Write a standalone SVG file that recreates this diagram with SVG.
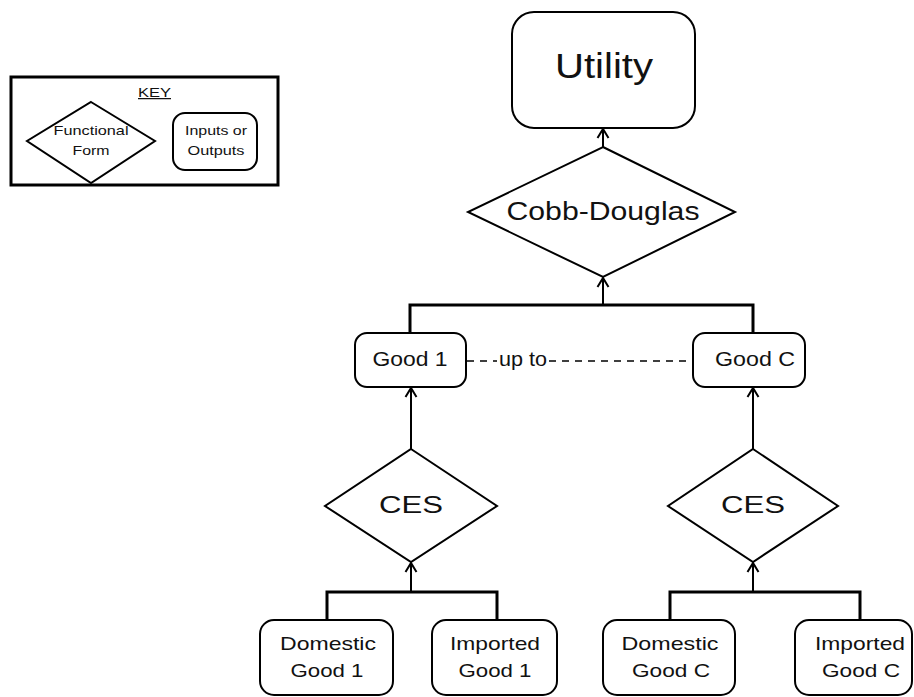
<svg xmlns="http://www.w3.org/2000/svg" width="914" height="697" viewBox="0 0 914 697">
<defs>
<marker id="arr" viewBox="-12 -8 14 16" refX="0" refY="0" markerWidth="14" markerHeight="16" markerUnits="userSpaceOnUse" orient="auto">
<path d="M-9,-5.5 L0,0 L-9,5.5" fill="none" stroke="#000" stroke-width="2"/>
</marker>
<style>
.box{fill:#fff;stroke:#000;stroke-width:2}
.dia{fill:#fff;stroke:#000;stroke-width:2}
.t{font-family:"Liberation Sans",Arial,sans-serif;fill:#111;text-anchor:middle}
.ln{fill:none;stroke:#000;stroke-width:2}
.bus{fill:none;stroke:#000;stroke-width:3}
.dash{fill:none;stroke:#000;stroke-width:1.5;stroke-dasharray:7,6}
</style>
</defs>
<rect width="914" height="697" fill="#fff"/>
<g id="key">
<rect x="11" y="77" width="267" height="108" fill="#fff" stroke="#000" stroke-width="3"/>
<text class="t" x="154.5" y="97" font-size="12.5" textLength="33" lengthAdjust="spacingAndGlyphs" text-decoration="underline">KEY</text>
<polygon class="dia" points="91,102 155,141 91,183 27,141"/>
<text class="t" x="91" y="135" font-size="13" textLength="75" lengthAdjust="spacingAndGlyphs">Functional</text>
<text class="t" x="91" y="155" font-size="13" textLength="37" lengthAdjust="spacingAndGlyphs">Form</text>
<rect class="box" x="173" y="113" width="84" height="57" rx="12"/>
<text class="t" x="216" y="135" font-size="13" textLength="62" lengthAdjust="spacingAndGlyphs">Inputs or</text>
<text class="t" x="216" y="155" font-size="13" textLength="57" lengthAdjust="spacingAndGlyphs">Outputs</text>
</g>
<g id="connectors">
<path class="ln" d="M603,147 V129" marker-end="url(#arr)"/>
<path class="bus" d="M410,333 V305 H753 V333"/>
<path class="ln" d="M603,305 V278" marker-end="url(#arr)"/>
<path class="dash" d="M467,361 H497"/>
<path class="dash" d="M549,361 H692"/>
<path class="ln" d="M411,449 V388" marker-end="url(#arr)"/>
<path class="ln" d="M753,449 V388" marker-end="url(#arr)"/>
<path class="bus" d="M327,620 V592 H497 V620"/>
<path class="ln" d="M411,592 V563" marker-end="url(#arr)"/>
<path class="bus" d="M670,620 V592 H860 V620"/>
<path class="ln" d="M753,592 V563" marker-end="url(#arr)"/>
<text class="t" x="523" y="366" font-size="19.5" textLength="48" lengthAdjust="spacingAndGlyphs">up to</text>
</g>
<g id="utility">
<rect class="box" x="512" y="12" width="183" height="116" rx="22"/>
<text class="t" x="604" y="78" font-size="35" textLength="98" lengthAdjust="spacingAndGlyphs">Utility</text>
</g>
<g id="cobb-douglas">
<polygon class="dia" points="603,147 735,212 603,277 468,212"/>
<text class="t" x="603" y="220" font-size="25" textLength="193" lengthAdjust="spacingAndGlyphs">Cobb-Douglas</text>
</g>
<g id="good1">
<rect class="box" x="355" y="333" width="111" height="54" rx="12"/>
<text class="t" x="410" y="366" font-size="19.5" textLength="75" lengthAdjust="spacingAndGlyphs">Good 1</text>
</g>
<g id="goodC">
<rect class="box" x="693" y="333" width="112" height="54" rx="12"/>
<text class="t" x="755" y="366" font-size="19.5" textLength="80" lengthAdjust="spacingAndGlyphs">Good C</text>
</g>
<g id="ces1">
<polygon class="dia" points="411,449 497,506 411,562 325,506"/>
<text class="t" x="411" y="513" font-size="24" textLength="64" lengthAdjust="spacingAndGlyphs">CES</text>
</g>
<g id="cesC">
<polygon class="dia" points="753,449 838,506 753,562 668,506"/>
<text class="t" x="753" y="513" font-size="24" textLength="64" lengthAdjust="spacingAndGlyphs">CES</text>
</g>
<g id="domestic1">
<rect class="box" x="260" y="620" width="133" height="75" rx="14"/>
<text class="t" x="328" y="650" font-size="19" textLength="96" lengthAdjust="spacingAndGlyphs">Domestic</text>
<text class="t" x="327" y="677" font-size="19" textLength="73" lengthAdjust="spacingAndGlyphs">Good 1</text>
</g>
<g id="imported1">
<rect class="box" x="432" y="620" width="125" height="75" rx="14"/>
<text class="t" x="495" y="650" font-size="19" textLength="90" lengthAdjust="spacingAndGlyphs">Imported</text>
<text class="t" x="495" y="677" font-size="19" textLength="73" lengthAdjust="spacingAndGlyphs">Good 1</text>
</g>
<g id="domesticC">
<rect class="box" x="603" y="620" width="132" height="75" rx="14"/>
<text class="t" x="670" y="650" font-size="19" textLength="97" lengthAdjust="spacingAndGlyphs">Domestic</text>
<text class="t" x="671" y="677" font-size="19" textLength="78" lengthAdjust="spacingAndGlyphs">Good C</text>
</g>
<g id="importedC">
<rect class="box" x="795" y="620" width="117" height="75" rx="14"/>
<text class="t" x="860" y="650" font-size="19" textLength="90" lengthAdjust="spacingAndGlyphs">Imported</text>
<text class="t" x="861" y="677" font-size="19" textLength="78" lengthAdjust="spacingAndGlyphs">Good C</text>
</g>
</svg>
